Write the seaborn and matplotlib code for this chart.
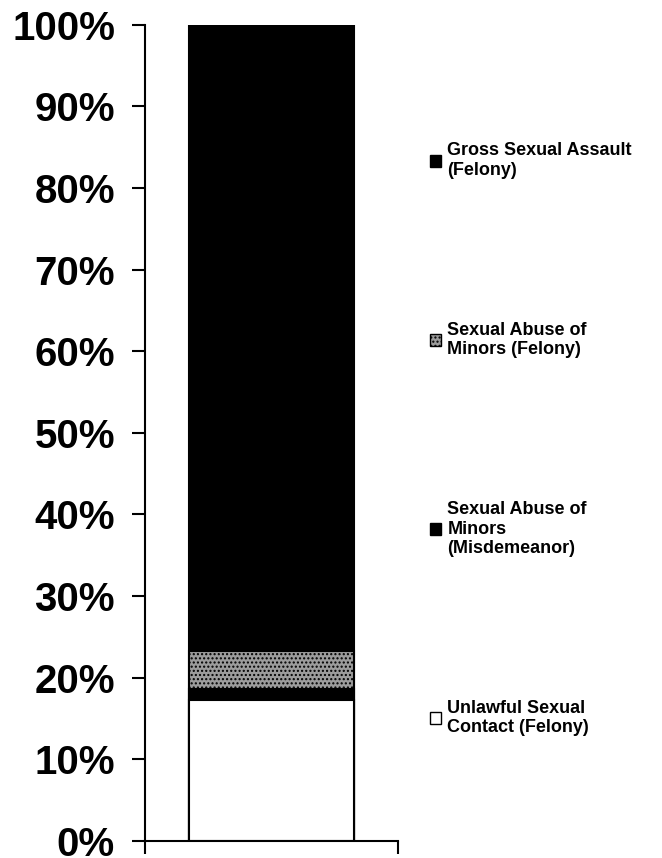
import numpy as np
import pandas as pd
import matplotlib
matplotlib.use("Agg")
import matplotlib.pyplot as plt
import seaborn as sns
from matplotlib.patches import Patch
from matplotlib.ticker import PercentFormatter

# Share of offenses, bottom to top of the stacked bar (percent)
categories = [
    "Unlawful Sexual\nContact (Felony)",
    "Sexual Abuse of\nMinors\n(Misdemeanor)",
    "Sexual Abuse of\nMinors (Felony)",
    "Gross Sexual Assault\n(Felony)",
]
shares = [17.2, 1.4, 4.7, 76.7]
colors = ["white", "black", "#9c9c9c", "black"]
hatches = ["", "", "....", ""]
ytick_values = list(range(0, 101, 10))

sns.set_style("white")
plt.rcParams["font.family"] = ["Liberation Sans", "DejaVu Sans"]
plt.rcParams["text.color"] = "black"
plt.rcParams["ytick.color"] = "black"
plt.rcParams["xtick.color"] = "black"

fig = plt.figure(figsize=(6.62, 8.58), dpi=100)
ax = fig.add_axes([0.219, 0.02, 0.382, 0.951])

# stacked bar: draw cumulative totals from the top down so each one covers the next
tops = np.cumsum(shares)
for i in reversed(range(len(categories))):
    df = pd.DataFrame({"group": [0], "value": [tops[i]]})
    sns.barplot(data=df, x="group", y="value", color=colors[i], width=0.65,
                edgecolor="black", linewidth=1.5, saturation=1, ax=ax)
    bar = ax.patches[-1]
    bar.set_facecolor(colors[i])
    if hatches[i]:
        bar.set_hatch(hatches[i])

ax.set_xlim(-0.5, 0.5)
ax.set_ylim(0, 100)
ax.set_xticks([-0.5, 0.5])
ax.set_xticklabels(["", ""])
ax.set_yticks(ytick_values)
ax.yaxis.set_major_formatter(PercentFormatter(decimals=0))
ax.set_xlabel("")
ax.set_ylabel("")
ax.tick_params(axis="y", direction="out", length=9.5, width=1.5, labelsize=29, pad=12,
               left=True, colors="black")
ax.tick_params(axis="x", direction="out", length=9.5, width=1.5, bottom=True, colors="black")
for lab in ax.get_yticklabels():
    lab.set_fontweight("bold")
sns.despine(ax=ax, top=True, right=True)
for side in ["left", "bottom"]:
    ax.spines[side].set_linewidth(1.5)
    ax.spines[side].set_color("black")

# legend, top entry first
handles = [Patch(facecolor=colors[i], edgecolor="black", hatch=hatches[i], label=categories[i])
           for i in reversed(range(len(categories)))]
fig.legend(handles=handles, loc="upper left", bbox_to_anchor=(0.65, 0.834),
           frameon=False, prop={"weight": "bold", "size": 13},
           handlelength=0.6, handleheight=0.6, handletextpad=0.35,
           labelspacing=7.9, borderaxespad=0, borderpad=0)

fig.savefig("out.png", dpi=100)
